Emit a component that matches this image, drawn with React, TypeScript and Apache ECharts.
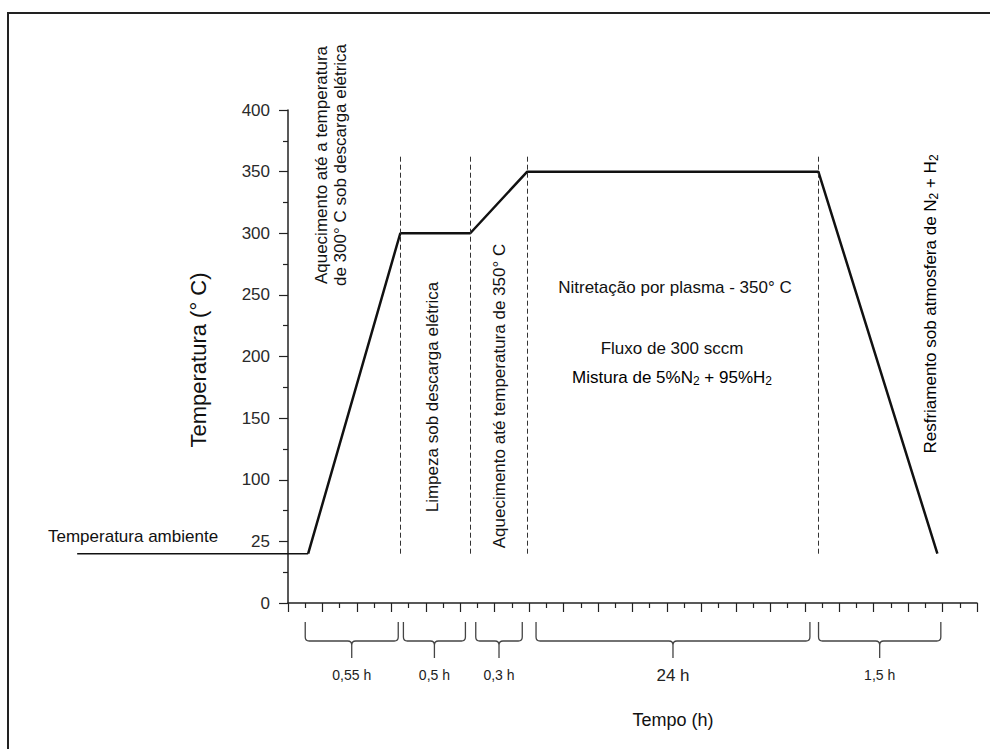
import React, { useEffect, useRef } from "react";
import * as echarts from "echarts";

// ---- Data ----
// y-axis tick values and the labels printed at them (the 50 tick is labelled "25" in the original)
const yTickValues = [0, 50, 100, 150, 200, 250, 300, 350, 400];
const yTickLabels = ["0", "25", "100", "150", "200", "250", "300", "350", "400"];

// ambient temperature segment (time units, °C)
const ambientTime = [-13.24, 0.17];
const ambientTemp = [40, 40];

// thermal cycle
const cycleTime = [0.17, 5.52, 9.58, 12.89, 29.79, 36.7];
const cycleTemp = [40, 300, 300, 350, 350, 40];

// dashed phase boundaries
const phaseBoundaries = [5.52, 9.58, 12.89, 29.79];
const phaseLineFrom = 40;
const phaseLineTo = 363;

// duration braces under the time axis
const braceStart = [0, 5.7, 9.9, 13.4, 29.8];
const braceEnd = [5.4, 9.3, 12.6, 29.3, 36.9];
const braceLabels = ["0,55 h", "0,5 h", "0,3 h", "24 h", "1,5 h"];
const BIG_BRACE_INDEX = 3;

const FONT = "'Liberation Sans', Arial, sans-serif";

export default function App() {
  const ref = useRef<HTMLDivElement>(null);

  useEffect(() => {
    if (!ref.current) return;
    const chart = echarts.init(ref.current, null, { renderer: "svg" });

    const sub = { fontSize: 12, fontFamily: FONT, color: "#111", lineHeight: 12, verticalAlign: "bottom" as const };
    const main = { fontSize: 17, fontFamily: FONT, color: "#111", lineHeight: 20 };

    const option: any = {
      animation: false,
      backgroundColor: "#ffffff",
      grid: { left: 288, right: 13, top: 110, bottom: 146 },
      xAxis: {
        type: "value",
        min: -1,
        max: 39,
        interval: 2,
        axisLine: { onZero: true, lineStyle: { color: "#222", width: 1.5 } },
        axisTick: { show: true, length: 9, lineStyle: { color: "#222", width: 1.2 } },
        minorTick: { show: true, splitNumber: 2, length: 5, lineStyle: { color: "#222", width: 1.2 } },
        axisLabel: { show: false },
        splitLine: { show: false },
        minorSplitLine: { show: false },
      },
      yAxis: {
        type: "value",
        min: 0,
        max: 400,
        interval: 50,
        axisLine: { show: true, onZero: false, lineStyle: { color: "#222", width: 1.5 } },
        axisTick: { show: true, length: 9, lineStyle: { color: "#222", width: 1.2 } },
        minorTick: { show: true, splitNumber: 2, length: 5, lineStyle: { color: "#222", width: 1.2 } },
        axisLabel: {
          margin: 18,
          color: "#2a2a2a",
          fontSize: 17,
          fontFamily: FONT,
          formatter: (v: number) => {
            const i = yTickValues.indexOf(v);
            return i >= 0 ? yTickLabels[i] : "";
          },
        },
        splitLine: { show: false },
      },
      series: [
        {
          type: "custom",
          clip: false,
          data: [[ambientTime[0], ambientTemp[0], ambientTime[1], ambientTemp[1]]],
          encode: { x: [0, 2], y: [1, 3] },
          renderItem: (_params: any, api: any) => {
            const p0 = api.coord([api.value(0), api.value(1)]);
            const p1 = api.coord([api.value(2), api.value(3)]);
            return {
              type: "line",
              shape: { x1: p0[0], y1: p0[1], x2: p1[0], y2: p1[1] },
              style: { stroke: "#111", lineWidth: 1.5 },
            };
          },
        },
        {
          type: "line",
          data: cycleTime.map((t, i) => [t, cycleTemp[i]]),
          symbol: "none",
          clip: false,
          lineStyle: { color: "#111", width: 2.5 },
          markLine: {
            silent: true,
            symbol: ["none", "none"],
            label: { show: false },
            lineStyle: { type: [5, 3], color: "#333", width: 1 },
            data: phaseBoundaries.map((x) => [
              { coord: [x, phaseLineFrom] },
              { coord: [x, phaseLineTo] },
            ]),
          },
        },
        {
          type: "custom",
          clip: false,
          data: braceStart.map((s, i) => [s, braceEnd[i], 0]),
          encode: { x: [0, 1], y: 2 },
          renderItem: (params: any, api: any) => {
            const i = params.dataIndex;
            const a = api.coord([api.value(0), 0]);
            const b = api.coord([api.value(1), 0]);
            const xL = a[0];
            const xR = b[0];
            const y0 = a[1];
            const xc = (xL + xR) / 2;
            const top = y0 + 19;
            const mid = y0 + 38;
            const bot = y0 + 55;
            const r = 4;
            const d =
              `M${xL},${top} L${xL},${mid - r} Q${xL},${mid} ${xL + r},${mid} L${xc - r},${mid} ` +
              `Q${xc},${mid} ${xc},${mid + r} L${xc},${bot} ` +
              `M${xc},${mid + r} Q${xc},${mid} ${xc + r},${mid} L${xR - r},${mid} ` +
              `Q${xR},${mid} ${xR},${mid - r} L${xR},${top}`;
            return {
              type: "group",
              children: [
                {
                  type: "path",
                  shape: { pathData: d },
                  style: { stroke: "#444", fill: "none", lineWidth: 1.3 },
                },
                {
                  type: "text",
                  x: xc,
                  y: y0 + 72,
                  style: {
                    text: braceLabels[i],
                    align: "center",
                    verticalAlign: "middle",
                    font: `${i === BIG_BRACE_INDEX ? 17 : 14}px ${FONT}`,
                    fill: "#222",
                  },
                },
              ],
            };
          },
        },
      ],
      graphic: [
        {
          type: "rect",
          shape: { x: 8, y: 13, width: 1000, height: 760 },
          style: { fill: "none", stroke: "#222", lineWidth: 2 },
          silent: true,
        },
        {
          type: "text",
          x: 198,
          y: 360,
          rotation: Math.PI / 2,
          style: { text: "Temperatura (° C)", font: `22px ${FONT}`, fill: "#111", align: "center", verticalAlign: "middle" },
        },
        {
          type: "text",
          x: 673,
          y: 720,
          style: { text: "Tempo (h)", font: `18px ${FONT}`, fill: "#111", align: "center", verticalAlign: "middle" },
        },
        {
          type: "text",
          x: 48,
          y: 536,
          style: { text: "Temperatura ambiente", font: `17px ${FONT}`, fill: "#111", align: "left", verticalAlign: "middle" },
        },
        {
          type: "text",
          x: 331,
          y: 165,
          rotation: Math.PI / 2,
          style: {
            text: "Aquecimento até a temperatura\nde 300° C sob descarga elétrica",
            font: `17px ${FONT}`,
            lineHeight: 19,
            fill: "#111",
            align: "center",
            verticalAlign: "middle",
          },
        },
        {
          type: "text",
          x: 432,
          y: 397,
          rotation: Math.PI / 2,
          style: { text: "Limpeza sob descarga elétrica", font: `17px ${FONT}`, fill: "#111", align: "center", verticalAlign: "middle" },
        },
        {
          type: "text",
          x: 499,
          y: 396,
          rotation: Math.PI / 2,
          style: { text: "Aquecimento até temperatura de 350° C", font: `17px ${FONT}`, fill: "#111", align: "center", verticalAlign: "middle" },
        },
        {
          type: "text",
          x: 675,
          y: 287,
          style: { text: "Nitretação por plasma - 350° C", font: `17px ${FONT}`, fill: "#111", align: "center", verticalAlign: "middle" },
        },
        {
          type: "text",
          x: 672,
          y: 348,
          style: { text: "Fluxo de 300 sccm", font: `17px ${FONT}`, fill: "#111", align: "center", verticalAlign: "middle" },
        },
        {
          type: "text",
          x: 672,
          y: 377,
          style: {
            text: "{m|Mistura de 5%N}{s|2}{m| + 95%H}{s|2}",
            align: "center",
            verticalAlign: "middle",
            rich: { m: main, s: sub },
          },
        },
        {
          type: "text",
          x: 930,
          y: 304,
          rotation: Math.PI / 2,
          style: {
            text: "{m|Resfriamento sob atmosfera de N}{s|2}{m| + H}{s|2}",
            align: "center",
            verticalAlign: "middle",
            rich: { m: main, s: sub },
          },
        },
      ],
    };

    chart.setOption(option);
    return () => chart.dispose();
  }, []);

  return (
    <div
      ref={ref}
      style={{ position: "fixed", left: 0, top: 0, width: 990, height: 749, background: "#fff" }}
    />
  );
}
